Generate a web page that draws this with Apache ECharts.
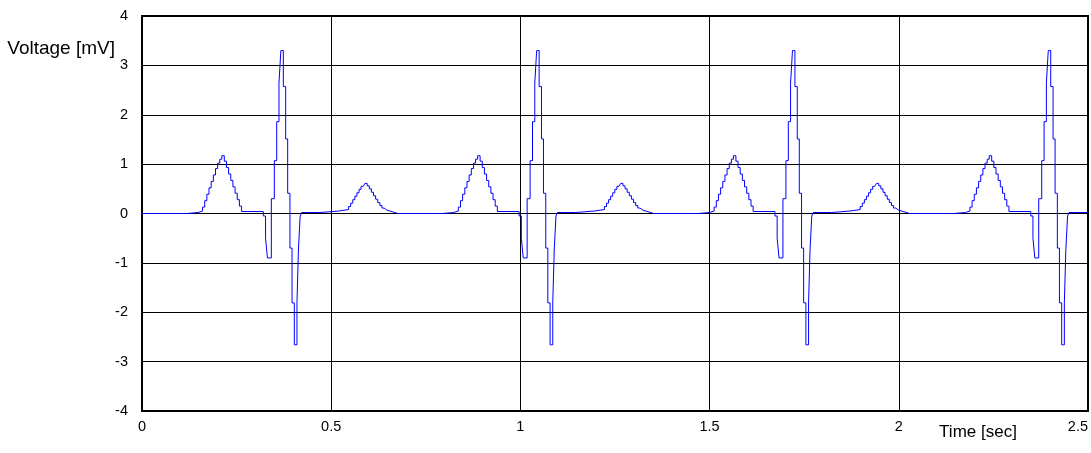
<!DOCTYPE html>
<html>
<head>
<meta charset="utf-8">
<script src="https://cdn.jsdelivr.net/npm/echarts@6/dist/echarts.min.js"></script>
<style>
html,body{margin:0;padding:0;background:#fff;}
#chart{width:1091px;height:453px;}
</style>
</head>
<body>
<div id="chart"></div>
<script>
// Tick labels
var xTicks = [0, 0.5, 1, 1.5, 2, 2.5];
var yTicks = [-4, -3, -2, -1, 0, 1, 2, 3, 4];

// Start time of each heartbeat (s)
var beatStarts = [0, 0.676, 1.352, 2.028];

// One heartbeat: time offset (s) and held voltage (mV)
var beatOffsets = [
  0.000, 0.118, 0.148,
  0.160, 0.1657, 0.1714, 0.1771, 0.1828, 0.1885, 0.1942, 0.1999, 0.2056, 0.211,
  0.2175, 0.2232, 0.2289, 0.2346, 0.2403, 0.246, 0.2517, 0.2574, 0.2631,
  0.3206, 0.3265, 0.3315, 0.3418,
  0.3497, 0.356, 0.362, 0.367, 0.3735, 0.3797, 0.385, 0.391, 0.3965, 0.4025,
  0.4095, 0.4135, 0.418, 0.4218,
  0.470, 0.519,
  0.546, 0.5515, 0.557, 0.5625, 0.568, 0.5735, 0.579, 0.5845, 0.589,
  0.595, 0.6006, 0.6062, 0.6118, 0.6174, 0.623, 0.6286, 0.6342, 0.6398, 0.647, 0.664
];
var beatValues = [
  0.00, 0.02, 0.05,
  0.13, 0.26, 0.39, 0.52, 0.65, 0.78, 0.91, 1.02, 1.10, 1.17,
  1.06, 0.93, 0.80, 0.67, 0.54, 0.41, 0.28, 0.15, 0.04,
  -0.05, -0.50, -0.90, 0.30,
  1.07, 1.86, 2.64, 3.30, 2.57, 1.51, 0.41, -0.70, -1.81, -2.66,
  -1.81, -0.72, -0.05, 0.02,
  0.05, 0.08,
  0.14, 0.21, 0.28, 0.35, 0.42, 0.49, 0.55, 0.59, 0.61,
  0.56, 0.50, 0.43, 0.36, 0.29, 0.22, 0.16, 0.11, 0.07, 0.03, 0.00
];

var tMax = 2.5;
var data = [];
var last = 0;
beatStarts.forEach(function (s) {
  for (var i = 0; i < beatOffsets.length; i++) {
    var t = +(s + beatOffsets[i]).toFixed(4);
    if (t > tMax) break;
    data.push([t, beatValues[i]]);
    last = beatValues[i];
  }
});
data.push([tMax, last]);

var font = 'Liberation Sans, Arial, sans-serif';
var chart = echarts.init(document.getElementById('chart'), null, {renderer: 'canvas'});
chart.setOption({
  animation: false,
  backgroundColor: '#fff',
  grid: {left: 142, right: 3, top: 16, bottom: 42, show: true, borderColor: '#000', borderWidth: 2,
    containLabel: false, outerBoundsMode: 'none'},
  xAxis: {
    type: 'value', min: xTicks[0], max: xTicks[xTicks.length - 1], interval: 0.5,
    name: 'Time [sec]', nameLocation: 'end', nameGap: -110,
    nameTextStyle: {fontFamily: font, fontSize: 17, color: '#000', align: 'center', verticalAlign: 'top', padding: [13, 0, 0, 0]},
    axisLine: {show: true, onZero: false, lineStyle: {color: '#000', width: 2}},
    axisTick: {show: false},
    axisLabel: {color: '#000', fontFamily: font, fontSize: 14.5, margin: 8, alignMaxLabel: 'right',
      showMaxLabel: true, showMinLabel: true,
      formatter: function (v) { return String(v); }},
    splitLine: {show: true, lineStyle: {color: '#000', width: 1}}
  },
  yAxis: {
    type: 'value', min: yTicks[0], max: yTicks[yTicks.length - 1], interval: 1,
    name: 'Voltage [mV]', nameLocation: 'end', nameGap: -39,
    nameTextStyle: {fontFamily: font, fontSize: 19, color: '#000', align: 'right', verticalAlign: 'middle', padding: [0, 27, 0, 0]},
    axisLine: {show: true, onZero: false, lineStyle: {color: '#000', width: 2}},
    axisTick: {show: true, inside: true, length: 8, lineStyle: {color: '#000'}},
    axisLabel: {color: '#000', fontFamily: font, fontSize: 14.5, margin: 14},
    splitLine: {show: true, lineStyle: {color: '#000', width: 1}}
  },
  series: [{
    type: 'line',
    step: 'end',
    data: data,
    showSymbol: false,
    symbol: 'none',
    lineStyle: {color: '#0000ff', width: 1},
    itemStyle: {color: '#0000ff'}
  }]
});
</script>
</body>
</html>
